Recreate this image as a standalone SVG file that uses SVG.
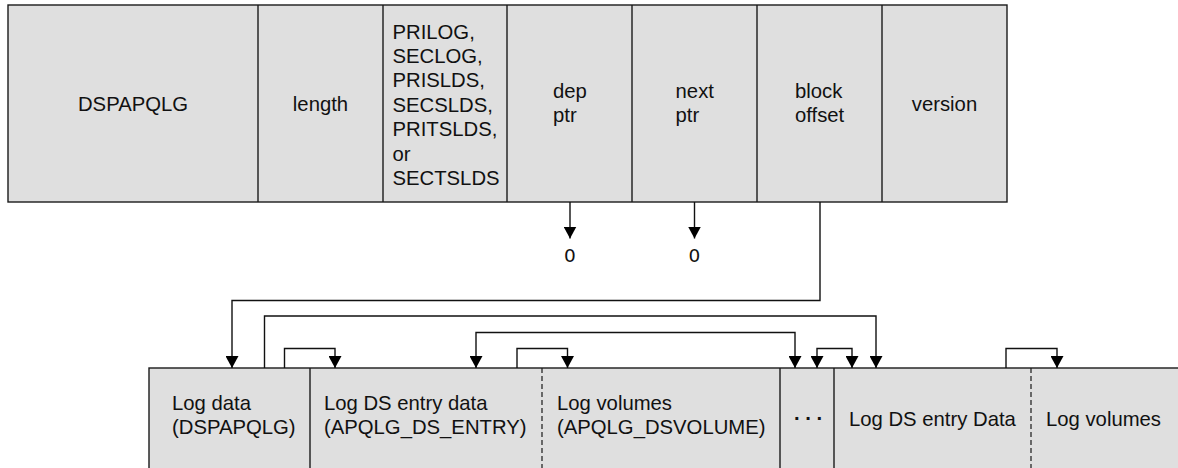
<svg xmlns="http://www.w3.org/2000/svg" width="1178" height="468" viewBox="0 0 1178 468">
<style>
.cell{fill:#dfdfdf;stroke:#1a1a1a;stroke-width:1.4}
.div{stroke:#1a1a1a;stroke-width:1.4;fill:none}
.dash{stroke:#1a1a1a;stroke-width:1.2;stroke-dasharray:5,3;fill:none}
.t{font-family:"Liberation Sans",Arial,sans-serif;font-size:20.3px;fill:#111}
.z{font-family:"DejaVu Sans",sans-serif;font-size:18.5px;fill:#111}
.c{text-anchor:middle}
.b{font-weight:bold}
.conn path{fill:none;stroke:#111;stroke-width:1.4}
</style>
<defs>
<marker id="ah" viewBox="0 0 12 13" markerWidth="12" markerHeight="13" refX="12" refY="6.5" orient="auto-start-reverse" markerUnits="userSpaceOnUse">
<path d="M0,0 L12,6.5 L0,13 z" fill="#000"/>
</marker>
</defs>
<rect x="0" y="0" width="1178" height="468" fill="#fff"/>

<g id="top-record">
<rect class="cell" x="8" y="5" width="999" height="197"/>
<g id="cell-dspapqlg"><text class="t c" x="133" y="111">DSPAPQLG</text></g>
<g id="cell-length"><line class="div" x1="258" y1="5" x2="258" y2="202"/><text class="t c" x="320.5" y="111">length</text></g>
<g id="cell-logtype"><line class="div" x1="383" y1="5" x2="383" y2="202"/>
<text class="t" x="392.5" y="38.5">PRILOG,</text>
<text class="t" x="392.5" y="62.9">SECLOG,</text>
<text class="t" x="392.5" y="87.3">PRISLDS,</text>
<text class="t" x="392.5" y="111.7">SECSLDS,</text>
<text class="t" x="392.5" y="136.1">PRITSLDS,</text>
<text class="t" x="392.5" y="160.5">or</text>
<text class="t" x="392.5" y="184.9">SECTSLDS</text></g>
<g id="cell-depptr"><line class="div" x1="507" y1="5" x2="507" y2="202"/><text class="t" x="553" y="97.5">dep</text><text class="t" x="553" y="121.9">ptr</text></g>
<g id="cell-nextptr"><line class="div" x1="632" y1="5" x2="632" y2="202"/><text class="t" x="675.6" y="97.5">next</text><text class="t" x="675.6" y="121.9">ptr</text></g>
<g id="cell-blockoffset"><line class="div" x1="757" y1="5" x2="757" y2="202"/><text class="t" x="795" y="97.5">block</text><text class="t" x="795" y="121.9">offset</text></g>
<g id="cell-version"><line class="div" x1="882" y1="5" x2="882" y2="202"/><text class="t c" x="944.5" y="111">version</text></g>
</g>

<g id="zero-dep"><text class="z c" x="570" y="262">0</text></g>
<g id="zero-next"><text class="z c" x="694.5" y="262">0</text></g>

<g id="bottom-record">
<rect class="cell" x="149" y="368" width="1040" height="110"/>
<g id="log-data"><text class="t" x="172" y="410">Log data</text><text class="t" x="172" y="434">(DSPAPQLG)</text></g>
<g id="log-ds-entry"><line class="div" x1="310" y1="368" x2="310" y2="468"/><text class="t" x="324" y="410">Log DS entry data</text><text class="t" x="324" y="434">(APQLG_DS_ENTRY)</text></g>
<g id="log-volumes"><line class="dash" x1="542" y1="368" x2="542" y2="468"/><text class="t" x="557" y="410">Log volumes</text><text class="t" x="557" y="434">(APQLG_DSVOLUME)</text></g>
<g id="ellipsis"><line class="div" x1="780" y1="368" x2="780" y2="468"/><text class="t c b" x="808" y="420">. . .</text></g>
<g id="log-ds-entry-2"><line class="div" x1="834" y1="368" x2="834" y2="468"/><text class="t" x="849" y="426">Log DS entry Data</text></g>
<g id="log-volumes-2"><line class="dash" x1="1031" y1="368" x2="1031" y2="468"/><text class="t" x="1046" y="426">Log volumes</text></g>
</g>

<g id="connectors" class="conn">
<path d="M570,202 V238.5" marker-end="url(#ah)"/>
<path d="M694.5,202 V238.5" marker-end="url(#ah)"/>
<path d="M820,202 V300.5 H232 V368" marker-end="url(#ah)"/>
<path d="M264.5,368 V316 H876 V368" marker-end="url(#ah)"/>
<path d="M284.5,368 V348.5 H335 V368" marker-end="url(#ah)"/>
<path d="M476,368 V332.5 H795 V368" marker-start="url(#ah)" marker-end="url(#ah)"/>
<path d="M517,368 V348.5 H567.5 V368" marker-end="url(#ah)"/>
<path d="M817,368 V348.5 H852 V368" marker-start="url(#ah)" marker-end="url(#ah)"/>
<path d="M1006,368 V348.5 H1057 V368" marker-end="url(#ah)"/>
</g>
</svg>
